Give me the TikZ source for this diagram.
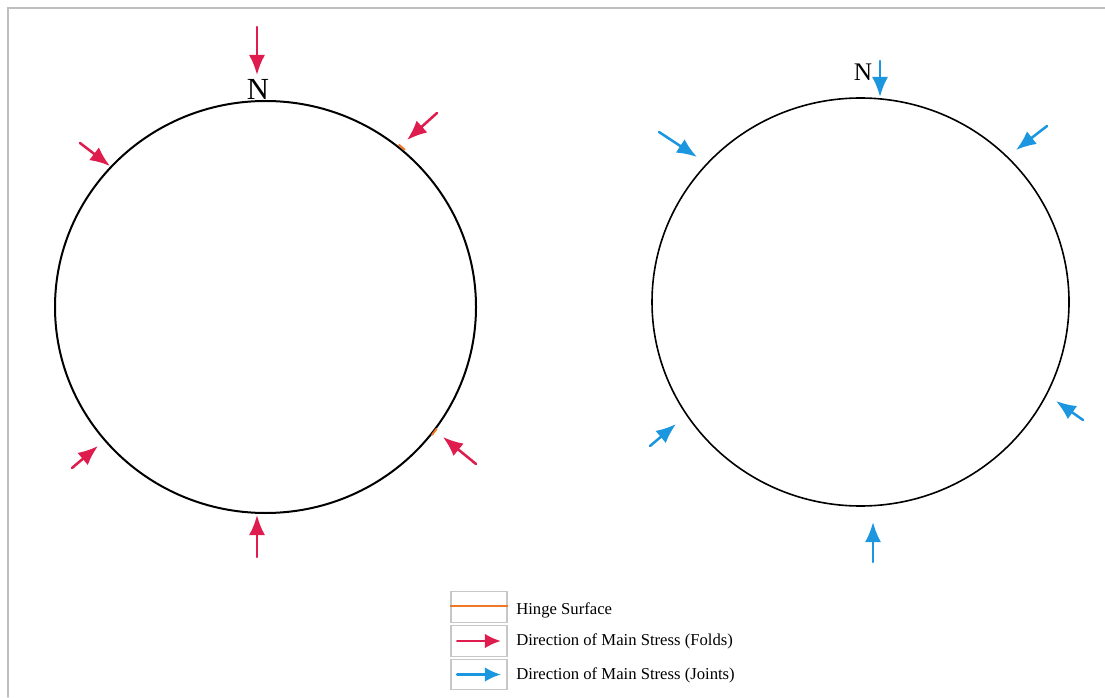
\documentclass[tikz,border=0pt]{standalone}
\usepackage{fontspec}
\setmainfont{Liberation Serif}
\usetikzlibrary{arrows.meta}
\definecolor{foldred}{RGB}{222,28,78}
\definecolor{jointblue}{RGB}{28,150,222}
\definecolor{hingeorange}{RGB}{238,120,40}
\begin{document}
\begin{tikzpicture}[x=0.75pt,y=0.75pt,line cap=round,>={Latex[length=15pt,width=12pt]},
		fold/.style={->,line width=1.9pt,foldred},
		joint/.style={->,line width=1.9pt,jointblue},
		net/.style={line width=1.5pt},
		hinge/.style={draw=hingeorange,line width=1.5pt},
		keybox/.style={draw=black!22,line width=0.8pt,minimum width=42pt,minimum height=23pt,inner sep=0pt},
		keytext/.style={anchor=west,inner sep=0pt,font=\fontsize{12.5}{14}\selectfont}]
	\useasboundingbox (0,0) rectangle (1105,697);
	\draw[black!25,line width=1.2pt] (8,0) -- (8,689) -- (1105,689);
	% folds net
	\coordinate (cL) at (265.5,390);
	\draw[net] (cL) circle[x radius=210.5,y radius=206];
	\draw[hinge] ([shift={(48.5:210)}]cL) arc[start angle=48.5,end angle=50.5,radius=210];
	\draw[hinge] ([shift={(-37.5:210)}]cL) arc[start angle=-37.5,end angle=-35.5,radius=210];
	\node[font=\fontsize{23}{24}\selectfont,inner sep=0pt] (nL) at (258,608) {N};
	\foreach \xa/\ya/\xb/\yb in {257/670/257/622, 80/554/110/531, 437/584/407/557, 72/229/98/251, 476/233/443/260, 257/140/257/182}
		\draw[fold] (\xa,\ya) -- (\xb,\yb);
	% joints net
	\coordinate (cR) at (860.5,395);
	\draw[net,line width=1.2pt] (cR) circle[x radius=208.5,y radius=204];
	\node[font=\fontsize{19}{20}\selectfont,inner sep=0pt] (nR) at (863,625) {N};
	\foreach \xa/\ya/\xb/\yb in {880/636/880/600, 659/565/697/540, 1047/571/1016/547, 650/251/676/273, 1083/277/1056/296, 873/135/873/175}
		\draw[joint] (\xa,\ya) -- (\xb,\yb);
	% key
	\node[keybox] (kh) at (479,90) {};
	\node[keybox] (kf) at (479,56) {};
	\node[keybox] (kj) at (479,22.5) {};
	\draw[hinge,line cap=butt] ([yshift=1pt]kh.west) -- ([yshift=1pt]kh.east);
	\draw[fold,>={Latex[length=12pt,width=11pt]}] ([xshift=5pt]kf.west) -- ([xshift=-5pt]kf.east);
	\draw[joint,>={Latex[length=12pt,width=11pt]}] ([xshift=5pt]kj.west) -- ([xshift=-5pt]kj.east);
	\node[keytext] (th) at (516,87) {Hinge Surface};
	\node[keytext] (tf) at (516,56) {Direction of Main Stress (Folds)};
	\node[keytext] (tj) at (516,22) {Direction of Main Stress (Joints)};
\end{tikzpicture}
\end{document}
